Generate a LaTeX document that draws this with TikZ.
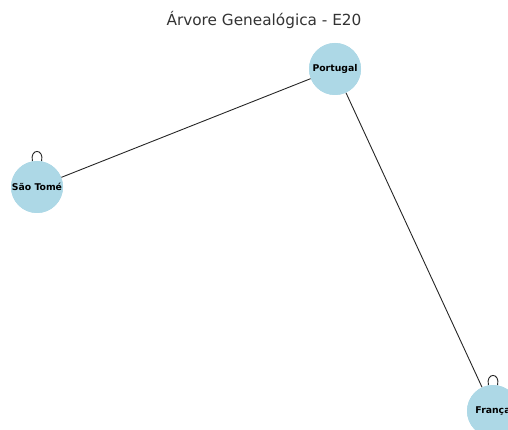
\documentclass[tikz,border=0pt]{standalone}
\usepackage{fontspec}
\setmainfont{DejaVu Sans}
\definecolor{lb}{HTML}{ADD8E6}
\definecolor{titlegray}{HTML}{333333}
\begin{document}
\begin{tikzpicture}[x=1pt,y=-1pt,
  country/.style={circle,fill=lb,draw=none,minimum size=52pt,inner sep=0pt,font=\bfseries\fontsize{9.3}{11}\selectfont},
  link/.style={draw=black!85,line width=0.9pt},
  ]
\useasboundingbox (0,0) rectangle (508,430);
\clip (0,0) rectangle (508,430);
\node[font=\fontsize{15.3}{18}\selectfont,text=titlegray] (title) at (264,20) {Árvore Genealógica - E20};
\node[country] (pt) at (335,69) {};
\node[country] (st) at (37,187) {};
\node[country] (fr) at (493,411) {};
\draw[link] (pt) -- (st);
\draw[link] (pt) -- (fr);
\draw[link] (st.100) .. controls +(-3,-13) and +(3,-13) .. (st.80);
\draw[link] (fr.100) .. controls +(-3,-13) and +(3,-13) .. (fr.80);
\fill[lb] (pt) circle (26);
\fill[lb] (st) circle (26);
\fill[lb] (fr) circle (26);
\node[country,fill=none] at (pt) {Portugal};
\node[country,fill=none] at (st) {São Tomé};
\node[country,fill=none] at (fr) {França};
\end{tikzpicture}
\end{document}
